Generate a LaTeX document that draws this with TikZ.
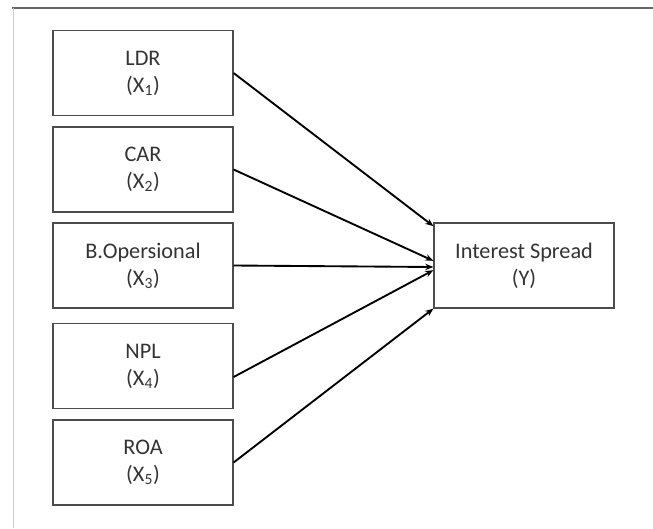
\documentclass[tikz,border=0pt]{standalone}
\usepackage{fontspec}
\setmainfont{Carlito}
\usepackage{tikz}
\usetikzlibrary{arrows.meta}
\usetikzlibrary{positioning}

\begin{document}
\begin{tikzpicture}[x=0.03cm, y=-0.03cm, varbox/.style={draw=black!70,line width=1pt,
	minimum width=5.4cm,minimum height=2.55cm,inner sep=0pt,align=center,
	font=\fontsize{19}{23}\selectfont,text=black!80},
	pijl/.style={line width=1.6pt,-{Stealth[length=7pt,width=5.5pt]}}]
\useasboundingbox (0,0) rectangle (653,528);
\draw[black!60,line width=1.4pt] (12,8) to (653,8);
\draw[black!20,line width=0.6pt] (13,8) to (13,528);
\node[varbox] (ldr) at (143, 73) {LDR\\(X\textsubscript{1})};
\node[varbox] (car) at (143, 169.5) {CAR\\(X\textsubscript{2})};
\node[varbox] (bop) at (143, 265.5) {B.Opersional\\(X\textsubscript{3})};
\node[varbox] (npl) at (143, 366) {NPL\\(X\textsubscript{4})};
\node[varbox] (roa) at (143, 462.5) {ROA\\(X\textsubscript{5})};
\node[varbox] (spread) at (524, 265.5) {Interest Spread\\(Y)};
\draw[pijl] (ldr.east) to ([yshift=1.18cm]spread.west);
\draw[pijl] (car.east) to ([yshift=0.14cm]spread.west);
\draw[pijl] (bop.east) to ([yshift=-0.045cm]spread.west);
\draw[pijl] ([yshift=-0.33cm]npl.east) to ([yshift=-0.14cm]spread.west);
\draw[pijl] (roa.east) to (spread.south west);
\end{tikzpicture}
\end{document}
